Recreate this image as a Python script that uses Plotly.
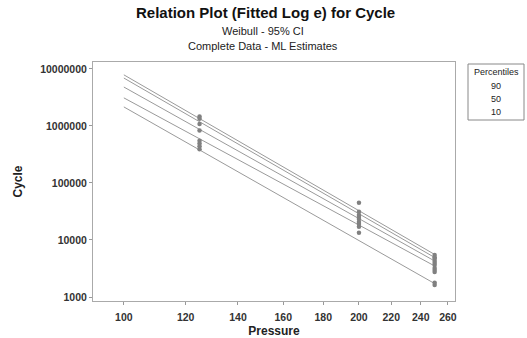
import plotly.graph_objects as go

# Data
line_x = [100, 250]
line_names = ["90 upper", "90", "50", "10", "10 lower"]
line_start = [7.85e6, 6.9e6, 4.8e6, 3.1e6, 2.15e6]
line_end = [5570, 4930, 4280, 3500, 1720]

pts_125 = [1455000, 1330000, 1080000, 830000, 550000, 490000, 440000, 390000]
pts_200 = [45000, 31300, 27500, 25300, 23300, 20700, 19100, 17100, 13400]
pts_250 = [5460, 5000, 4700, 4290, 3950, 3640, 3230, 2980, 2750, 1780, 1620]

x_ticks = [100, 120, 140, 160, 180, 200, 220, 240, 260]
y_ticks = [1000, 10000, 100000, 1000000, 10000000]
y_ticktext = ["1000", "10000", "100000", "1000000", "10000000"]
legend_items = ["90", "50", "10"]

fig = go.Figure()
for name, s, e in zip(line_names, line_start, line_end):
    fig.add_trace(go.Scatter(x=line_x, y=[s, e], mode="lines",
                             line=dict(color="#9a9a9a", width=1), name=name,
                             showlegend=False, hoverinfo="skip"))

px = [125] * len(pts_125) + [200] * len(pts_200) + [250] * len(pts_250)
py = pts_125 + pts_200 + pts_250
fig.add_trace(go.Scatter(x=px, y=py, mode="markers",
                         marker=dict(color="#808080", size=4.5), showlegend=False))

font = "Liberation Sans"
fig.update_layout(
    width=527, height=338,
    margin=dict(l=93, r=72, t=62, b=37),
    paper_bgcolor="white", plot_bgcolor="white",
    font=dict(family=font, color="#222"),
    showlegend=False,
)
fig.update_xaxes(type="log", range=[1.9605, 2.424], tickvals=x_ticks,
                 ticktext=["<b>%d</b>" % v for v in x_ticks],
                 showgrid=False, zeroline=False, automargin=False,
                 showline=True, mirror=True, linecolor="#aaa", linewidth=1,
                 ticks="outside", ticklen=3, tickcolor="#999",
                 ticklabelstandoff=3,
                 tickfont=dict(size=10.5, family=font, color="#333"),
                 title=dict(text="<b>Pressure</b>", font=dict(size=12, color="#222"), standoff=6))
fig.update_yaxes(type="log", range=[2.93, 7.12], tickvals=y_ticks,
                 ticktext=["<b>%s</b>" % t for t in y_ticktext],
                 showgrid=False, zeroline=False, automargin=False,
                 showline=True, mirror=True, linecolor="#aaa", linewidth=1,
                 ticks="outside", ticklen=3, tickcolor="#999",
                 tickfont=dict(size=10.5, family=font, color="#333"),
                 title=dict(text="<b>Cycle</b>", font=dict(size=12, color="#222"), standoff=14))


def pix(xp, yp):
    # convert page pixel to paper coords
    return (xp - 93) / (455 - 93), (301 - yp) / (301 - 62)

tx, ty = pix(265, 13)
fig.add_annotation(x=tx, y=ty, xref="paper", yref="paper", showarrow=False,
                   text="<b>Relation Plot (Fitted Log e) for Cycle</b>",
                   font=dict(size=15, color="#111"), xanchor="center", yanchor="middle")
tx, ty = pix(263, 31)
fig.add_annotation(x=tx, y=ty, xref="paper", yref="paper", showarrow=False,
                   text="Weibull - 95% CI", font=dict(size=11, color="#222"),
                   xanchor="center", yanchor="middle")
tx, ty = pix(263, 46)
fig.add_annotation(x=tx, y=ty, xref="paper", yref="paper", showarrow=False,
                   text="Complete Data - ML Estimates", font=dict(size=11, color="#222"),
                   xanchor="center", yanchor="middle")

# Legend box
x0, y0 = pix(468, 64)
x1, y1 = pix(524, 120)
fig.add_shape(type="rect", xref="paper", yref="paper", x0=x0, y0=y1, x1=x1, y1=y0,
              line=dict(color="#888", width=1), fillcolor="white")
for label, yp in zip(["Percentiles"] + legend_items, [72, 86, 99, 112]):
    tx, ty = pix(496, yp)
    fig.add_annotation(x=tx, y=ty, xref="paper", yref="paper", showarrow=False,
                       text=label, font=dict(size=9, color="#222"),
                       xanchor="center", yanchor="middle")

fig.write_html("out.html")
